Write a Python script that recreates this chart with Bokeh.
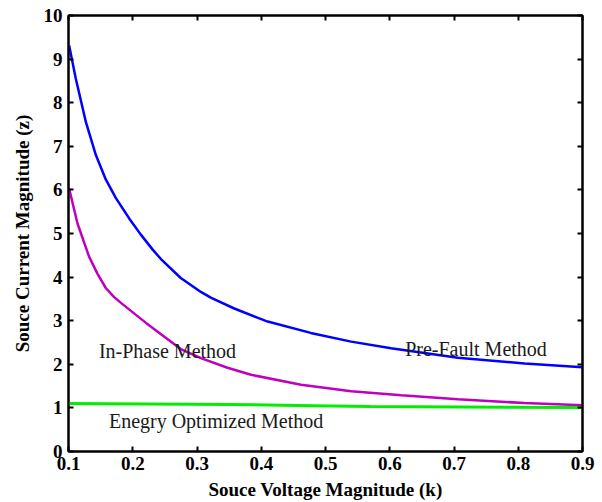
from bokeh.plotting import figure
from bokeh.models import LinearAxis, Label, Range1d, FixedTicker
from bokeh.embed import file_html
from bokeh.resources import INLINE

# Source voltage magnitude (k) samples and the resulting source current (z)
k_prefault = [0.101, 0.1114, 0.127, 0.1426, 0.158, 0.1738, 0.1947, 0.2123, 0.231,
              0.2435, 0.2747, 0.306, 0.3214, 0.358, 0.394, 0.41, 0.477, 0.54,
              0.602, 0.706, 0.81, 0.9]
z_prefault = [9.31, 8.55, 7.56, 6.80, 6.24, 5.81, 5.34, 4.98, 4.63,
              4.42, 3.98, 3.66, 3.53, 3.28, 3.07, 2.98, 2.72, 2.52,
              2.37, 2.15, 2.02, 1.93]

k_inphase = [0.101, 0.114, 0.132, 0.145, 0.158, 0.171, 0.184, 0.2206, 0.2747,
             0.306, 0.3475, 0.384, 0.462, 0.54, 0.618, 0.706, 0.81, 0.9]
z_inphase = [6.03, 5.23, 4.47, 4.08, 3.75, 3.54, 3.38, 2.95, 2.35,
             2.14, 1.92, 1.76, 1.53, 1.38, 1.29, 1.20, 1.11, 1.06]

k_energy = [0.100, 0.35, 0.48, 0.57, 0.9]
z_energy = [1.10, 1.08, 1.05, 1.03, 1.01]

x_ticks = [0.1, 0.2, 0.3, 0.4, 0.5, 0.6, 0.7, 0.8, 0.9]
y_ticks = [0, 1, 2, 3, 4, 5, 6, 7, 8, 9, 10]

SERIF = "'Liberation Serif', 'Times New Roman', serif"

p = figure(width=602, height=502, output_backend="svg", toolbar_location=None,
           x_range=Range1d(0.1, 0.9), y_range=Range1d(0, 10),
           min_border_left=68, min_border_right=20, min_border_top=15,
           min_border_bottom=50, x_axis_label="Souce Voltage Magnitude (k)",
           y_axis_label="Souce Current Magnitude (z)")

p.grid.visible = False
p.outline_line_color = "black"
p.outline_line_width = 2
p.background_fill_color = "white"
p.border_fill_color = "white"

for ax in (p.xaxis[0], p.yaxis[0]):
    ax.axis_line_width = 2
    ax.major_tick_in = 5
    ax.major_tick_out = 0
    ax.major_tick_line_width = 2
    ax.minor_tick_line_color = None
    ax.major_label_text_font = SERIF
    ax.major_label_text_font_style = "bold"
    ax.major_label_text_font_size = "19px"
    ax.major_label_text_color = "black"
    ax.axis_label_text_font = SERIF
    ax.axis_label_text_font_style = "bold"
    ax.axis_label_text_font_size = "19px"
    ax.axis_label_text_color = "black"

p.xaxis[0].ticker = FixedTicker(ticks=x_ticks)
p.yaxis[0].ticker = FixedTicker(ticks=y_ticks)
p.xaxis[0].major_label_standoff = 5
p.xaxis[0].axis_label_standoff = 6
p.yaxis[0].major_label_standoff = 6
p.yaxis[0].axis_label_standoff = 8

# mirrored tick marks on the top and right sides of the box
top = LinearAxis(ticker=FixedTicker(ticks=x_ticks))
right = LinearAxis(ticker=FixedTicker(ticks=y_ticks))
for ax in (top, right):
    ax.axis_line_width = 2
    ax.major_tick_in = 5
    ax.major_tick_out = 0
    ax.major_tick_line_width = 2
    ax.minor_tick_line_color = None
    ax.major_label_text_font_size = "0px"
    ax.major_label_text_alpha = 0
    ax.major_label_standoff = 0
p.add_layout(top, "above")
p.add_layout(right, "right")

p.line(k_prefault, z_prefault, line_color="#0000FF", line_width=2.5)
p.line(k_inphase, z_inphase, line_color="#BF00BF", line_width=2.5)
p.line(k_energy, z_energy, line_color="#00EE00", line_width=3)

labels = [
    ("In-Phase Method", 0.1473, 2.295),
    ("Pre-Fault Method", 0.624, 2.36),
    ("Enegry Optimized Method", 0.1629, 0.69),
]
for txt, lx, ly in labels:
    p.add_layout(Label(x=lx, y=ly, text=txt, text_font=SERIF,
                       text_font_size="20px", text_color="#1a1a1a",
                       text_baseline="alphabetic", text_align="left"))

open("out.html", "w").write(file_html(p, INLINE))
